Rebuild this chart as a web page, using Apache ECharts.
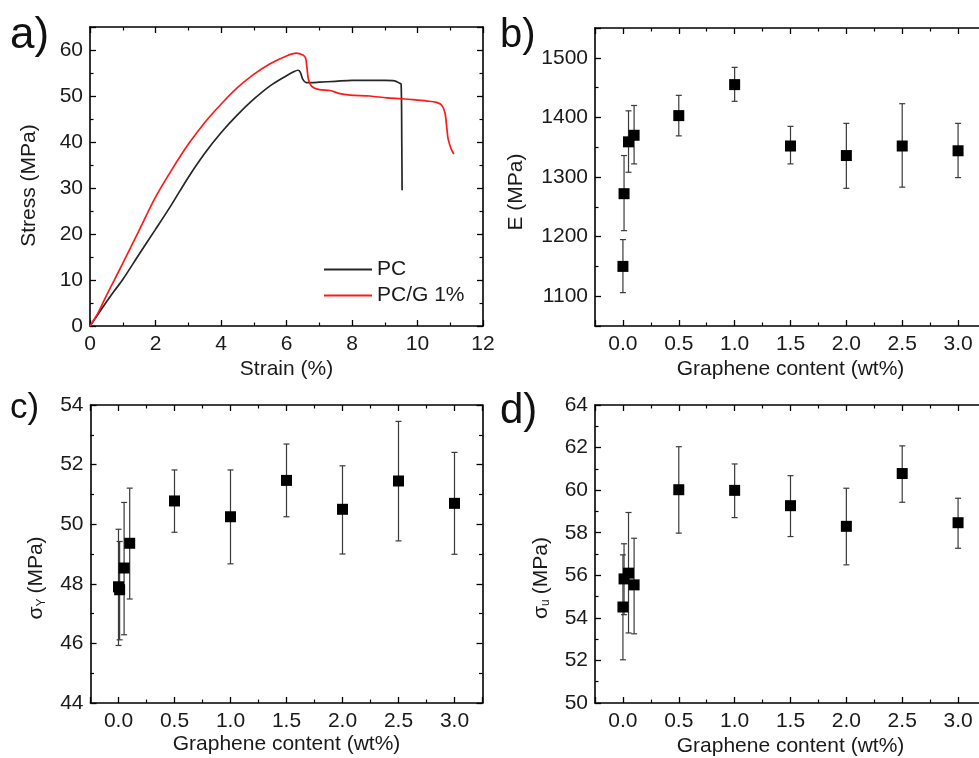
<!DOCTYPE html>
<html>
<head>
<meta charset="utf-8">
<script src="https://cdn.jsdelivr.net/npm/echarts@6/dist/echarts.min.js"></script>
<style>html,body{margin:0;padding:0;background:#fff;}#c{width:979px;height:758px;}</style>
</head>
<body>
<div id="c"></div>
<script>
// ---- Panel a: stress-strain curves ----
const strainPC = [0, 0.25, 0.5, 0.75, 1, 1.5, 2, 2.5, 3, 3.5, 4, 4.5, 5, 5.5, 6, 6.2, 6.35, 6.42, 6.5, 6.6, 6.8, 7, 7.5, 8, 8.5, 9, 9.3, 9.45, 9.5, 9.52, 9.53];
const stressPC = [0, 2.6, 5.2, 7.7, 10.1, 15.6, 21, 26.5, 32.3, 37.5, 42, 45.9, 49.3, 52.2, 54.4, 55.2, 55.6, 55.2, 53.6, 52.9, 52.9, 53.0, 53.2, 53.4, 53.4, 53.4, 53.3, 52.8, 52.6, 40, 29.5];
const strainPCG = [0, 0.25, 0.5, 0.75, 1, 1.5, 2, 2.5, 3, 3.5, 4, 4.5, 5, 5.5, 6, 6.3, 6.5, 6.58, 6.62, 6.67, 6.77, 7.0, 7.33, 7.63, 7.94, 8.55, 9.06, 9.5, 9.87, 10.3, 10.58, 10.74, 10.84, 10.89, 10.94, 11.04, 11.11];
const stressPCG = [0, 2.9, 6.6, 10.1, 13.6, 20.8, 28, 34, 39.5, 44.2, 48.2, 51.8, 54.7, 57, 58.7, 59.3, 58.9, 58.3, 56.5, 53.6, 52.1, 51.4, 51.2, 50.5, 50.2, 50.0, 49.6, 49.4, 49.2, 48.9, 48.6, 48.0, 46.3, 43.4, 40.5, 38.3, 37.4];

// ---- Panels b-d: graphene content ----
const content = [0, 0.01, 0.05, 0.1, 0.5, 1.0, 1.5, 2.0, 2.5, 3.0];
const E_mean = [1150, 1272, 1359, 1370, 1403, 1455, 1352, 1336, 1352, 1344];
const E_low  = [1106, 1210, 1308, 1322, 1369, 1427, 1322, 1281, 1283, 1299];
const E_high = [1195, 1336, 1411, 1420, 1437, 1484, 1385, 1390, 1423, 1390];
const SY_mean = [47.9, 47.8, 48.53, 49.36, 50.78, 50.25, 51.47, 50.5, 51.45, 50.7];
const SY_low  = [45.93, 46.12, 46.29, 47.49, 49.73, 48.67, 50.25, 49.0, 49.44, 48.99];
const SY_high = [49.83, 49.42, 50.73, 51.21, 51.82, 51.82, 52.69, 51.96, 53.45, 52.41];
const SU_mean = [54.51, 55.83, 56.1, 55.55, 60.02, 59.99, 59.27, 58.3, 60.78, 58.47];
const SU_low  = [52.03, 54.15, 53.29, 53.25, 57.98, 58.71, 57.82, 56.49, 59.43, 57.27];
const SU_high = [56.96, 57.48, 58.95, 57.74, 62.04, 61.23, 60.68, 60.09, 62.08, 59.62];

const FONT = 'Liberation Sans, Arial, sans-serif';
const TXT = '#1a1a1a';
const chart = echarts.init(document.getElementById('c'), null, {renderer: 'canvas'});

function baseAxis(extra) {
  return Object.assign({
    type: 'value',
    axisLine: {show: true, onZero: false, lineStyle: {color: '#000', width: 1.6}},
    axisTick: {show: true, inside: true, length: 6, lineStyle: {color: '#000', width: 1.3}},
    minorTick: {show: true, splitNumber: 2, length: 3.5, lineStyle: {color: '#000', width: 1.2}},
    splitLine: {show: false},
    minorSplitLine: {show: false},
    axisLabel: {show: false},
    nameTextStyle: {fontFamily: FONT, fontSize: 21, color: TXT}
  }, extra);
}
function lab(formatter, margin) {
  return {show: true, fontFamily: FONT, fontSize: 21, color: TXT, margin: margin, formatter: formatter};
}
const fmtHalf = v => { const r = Math.round(v * 2) / 2; return Math.abs(v - r) < 1e-6 ? (Math.abs(r) < 1e-9 ? 0 : r).toFixed(1) : ''; };
const fmtEvery = step => v => (Math.abs(v / step - Math.round(v / step)) < 1e-6 ? String(Math.round(v)) : '');

const contentAxis = {min: -0.25, max: 3.25, splitNumber: 7};

const grids = [
  {left: 90, top: 27, width: 393, height: 299, outerBoundsMode: 'none', containLabel: false},
  {left: 595, top: 28, width: 391, height: 298, outerBoundsMode: 'none', containLabel: false},
  {left: 90.5, top: 405, width: 392, height: 298, outerBoundsMode: 'none', containLabel: false},
  {left: 595, top: 405, width: 391, height: 298, outerBoundsMode: 'none', containLabel: false}
];

const subRich = {s: {fontFamily: FONT, fontSize: 21, color: TXT}, sub: {fontFamily: FONT, fontSize: 12, color: TXT, padding: [10, 5, 0, 0]}};

const xAxes = [
  baseAxis({gridIndex: 0, position: 'bottom', min: 0, max: 12, interval: 2, axisLabel: lab(fmtEvery(2), 8), name: 'Strain (%)', nameLocation: 'middle', nameGap: 33}),
  baseAxis({gridIndex: 0, position: 'top', min: 0, max: 12, interval: 2}),
  baseAxis(Object.assign({gridIndex: 1, position: 'bottom', axisLabel: lab(fmtHalf, 8), name: 'Graphene content (wt%)', nameLocation: 'middle', nameGap: 33}, contentAxis)),
  baseAxis(Object.assign({gridIndex: 1, position: 'top'}, contentAxis)),
  baseAxis(Object.assign({gridIndex: 2, position: 'bottom', axisLabel: lab(fmtHalf, 8), name: 'Graphene content (wt%)', nameLocation: 'middle', nameGap: 31}, contentAxis)),
  baseAxis(Object.assign({gridIndex: 2, position: 'top'}, contentAxis)),
  baseAxis(Object.assign({gridIndex: 3, position: 'bottom', axisLabel: lab(fmtHalf, 8), name: 'Graphene content (wt%)', nameLocation: 'middle', nameGap: 33}, contentAxis)),
  baseAxis(Object.assign({gridIndex: 3, position: 'top'}, contentAxis))
];

const yAxes = [
  baseAxis({gridIndex: 0, position: 'left', min: 0, max: 65, interval: 10, axisLabel: lab(fmtEvery(10), 7), name: 'Stress (MPa)', nameLocation: 'middle', nameGap: 50, nameTextStyle: {fontFamily: FONT, fontSize: 21, color: TXT, padding: [0, 18, 0, 0]}}),
  baseAxis({gridIndex: 0, position: 'right', min: 0, max: 65, interval: 10}),
  baseAxis({gridIndex: 1, position: 'left', min: 1050, max: 1550, splitNumber: 5, axisLabel: lab(fmtEvery(100), 7), name: 'E (MPa)', nameLocation: 'middle', nameGap: 68, nameTextStyle: {fontFamily: FONT, fontSize: 21, color: TXT, padding: [0, 30, 0, 0]}}),
  baseAxis({gridIndex: 1, position: 'right', min: 1050, max: 1550, splitNumber: 5}),
  baseAxis({gridIndex: 2, position: 'left', min: 44, max: 54, interval: 2, axisLabel: lab(fmtEvery(2), 7), name: '{s|σ}{sub|Y}{s|(MPa)}', nameLocation: 'middle', nameGap: 43,
    nameTextStyle: {fontFamily: FONT, fontSize: 21, color: TXT, padding: [0, 48, 0, 0], rich: subRich}}),
  baseAxis({gridIndex: 2, position: 'right', min: 44, max: 54, interval: 2}),
  baseAxis({gridIndex: 3, position: 'left', min: 50, max: 64, interval: 2, axisLabel: lab(fmtEvery(2), 7), name: '{s|σ}{sub|u}{s|(MPa)}', nameLocation: 'middle', nameGap: 43,
    nameTextStyle: {fontFamily: FONT, fontSize: 21, color: TXT, padding: [0, 48, 0, 0], rich: subRich}}),
  baseAxis({gridIndex: 3, position: 'right', min: 50, max: 64, interval: 2})
];

function errRender(params, api) {
  const x = api.value(0), lo = api.value(1), hi = api.value(2);
  const p1 = api.coord([x, lo]), p2 = api.coord([x, hi]);
  const w = 3;
  const st = {stroke: '#3a3a3a', lineWidth: 1.2};
  return {type: 'group', children: [
    {type: 'line', shape: {x1: p1[0], y1: p1[1], x2: p2[0], y2: p2[1]}, style: st},
    {type: 'line', shape: {x1: p1[0] - w, y1: p1[1], x2: p1[0] + w, y2: p1[1]}, style: st},
    {type: 'line', shape: {x1: p2[0] - w, y1: p2[1], x2: p2[0] + w, y2: p2[1]}, style: st}
  ]};
}
function errSeries(idx, low, high) {
  return {type: 'custom', xAxisIndex: idx, yAxisIndex: idx, renderItem: errRender, z: 2, silent: true,
    encode: {x: 0, y: [1, 2]}, data: content.map((c, i) => [c, low[i], high[i]])};
}
function ptSeries(idx, mean) {
  return {type: 'scatter', xAxisIndex: idx, yAxisIndex: idx, symbol: 'rect', symbolSize: 11, z: 3, silent: true,
    itemStyle: {color: '#000', opacity: 1}, data: content.map((c, i) => [c, mean[i]])};
}

const panelLabels = [
  {t: 'a)', x: 10, y: 40, s: 44},
  {t: 'b)', x: 500, y: 40, s: 40},
  {t: 'c)', x: 10, y: 412, s: 35},
  {t: 'd)', x: 500, y: 416, s: 42}
];

chart.setOption({
  animation: false,
  backgroundColor: '#fff',
  grid: grids,
  xAxis: xAxes,
  yAxis: yAxes,
  legend: {
    show: true, orient: 'vertical', left: 319, top: 254, itemWidth: 48, itemHeight: 2, itemGap: 5,
    icon: 'rect',
    textStyle: {fontFamily: FONT, fontSize: 21, color: TXT},
    data: ['PC', 'PC/G 1%']
  },
  graphic: panelLabels.map(p => ({type: 'text', left: p.x, top: p.y - p.s * 0.6,
    style: {text: p.t, font: p.s + 'px ' + FONT, fill: '#111'}})),
  series: [
    {name: 'PC', type: 'line', xAxisIndex: 0, yAxisIndex: 0, symbol: 'none', showSymbol: false, smooth: 0.3,
      lineStyle: {color: '#262626', width: 1.7}, itemStyle: {color: '#262626'},
      data: strainPC.map((s, i) => [s, stressPC[i]])},
    {name: 'PC/G 1%', type: 'line', xAxisIndex: 0, yAxisIndex: 0, symbol: 'none', showSymbol: false, smooth: 0.3,
      lineStyle: {color: '#ff1a1a', width: 1.7}, itemStyle: {color: '#ff1a1a'},
      data: strainPCG.map((s, i) => [s, stressPCG[i]])},
    errSeries(2, E_low, E_high), ptSeries(2, E_mean),
    errSeries(4, SY_low, SY_high), ptSeries(4, SY_mean),
    errSeries(6, SU_low, SU_high), ptSeries(6, SU_mean)
  ]
});
</script>
</body>
</html>
